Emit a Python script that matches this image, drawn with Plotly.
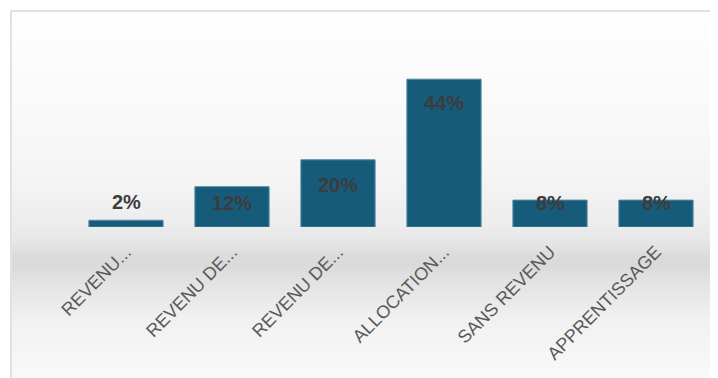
import plotly.graph_objects as go

categories = ["REVENU...", "REVENU DE...", "REVENU DE...", "ALLOCATION...", "SANS REVENU", "APPRENTISSAGE"]
values = [2, 12, 20, 44, 8, 8]
value_labels = ["2%", "12%", "20%", "44%", "8%", "8%"]
label_shift = [18, -16, -25, -24, -3, -3]

# page body has an 8px margin, so the figure starts at (8, 8) in the window
OFF = 8
W, H = 718 - OFF, 378 - OFF
L, R, T, B = 73 - OFF, 9, 59 - OFF, 151
pw, ph = W - L - R, H - T - B

def px_x(p):  # p in window pixels
    return (p - OFF - L) / pw

def px_y(p):
    return (H - B - (p - OFF)) / ph

# background gradient control points (window pixel y, gray level)
ctrl = [(12, 254), (100, 250), (180, 244), (227, 236), (245, 228), (256, 219),
        (266, 218), (285, 228), (320, 241), (378, 249)]

def gray_at(y):
    for (y0, g0), (y1, g1) in zip(ctrl[:-1], ctrl[1:]):
        if y0 <= y <= y1:
            t = (y - y0) / (y1 - y0)
            return g0 + (g1 - g0) * t
    return ctrl[-1][1]

shapes = []
step = 2
y = 12
while y < 380:
    g = int(round(gray_at(y + step / 2)))
    shapes.append(dict(type="rect", xref="paper", yref="paper", layer="below",
                       x0=px_x(12), x1=px_x(730), y0=px_y(y), y1=px_y(y + step + 0.5),
                       fillcolor=f"rgb({g},{g},{g})", line=dict(width=0)))
    y += step
shapes.append(dict(type="rect", xref="paper", yref="paper", layer="above",
                   x0=px_x(11), x1=px_x(740), y0=px_y(11), y1=px_y(400),
                   fillcolor="rgba(0,0,0,0)", line=dict(color="#e1e1e1", width=2)))

x_idx = list(range(len(categories)))

fig = go.Figure()
fig.add_trace(go.Bar(
    x=x_idx, y=values,
    marker=dict(color="#175b7b", line=dict(color="#4f8aa5", width=1)),
    width=0.7,
    hoverinfo="skip",
))

annotations = []
for xi, v, lab, s in zip(x_idx, values, value_labels, label_shift):
    annotations.append(dict(x=xi, y=v, text=lab, showarrow=False, yshift=s,
                            xanchor="center", yanchor="middle",
                            font=dict(family="Liberation Sans, Arial", size=20,
                                      color="#3c3c3c", weight="bold")))

fig.update_layout(
    width=W, height=H,
    margin=dict(l=L, r=R, t=T, b=B, pad=0),
    paper_bgcolor="white",
    plot_bgcolor="rgba(0,0,0,0)",
    showlegend=False,
    shapes=shapes,
    annotations=annotations,
    xaxis=dict(range=[-0.5, 5.5], tickmode="array", tickvals=x_idx, ticktext=categories,
               tickangle=-45, showgrid=False, zeroline=False, showline=False, ticks="",
               ticklabelstandoff=10,
               tickfont=dict(family="Liberation Sans, Arial", size=18, color="#5a5a5a")),
    yaxis=dict(range=[0, 50], visible=False, showgrid=False, zeroline=False),
)

fig.write_html("out.html")
